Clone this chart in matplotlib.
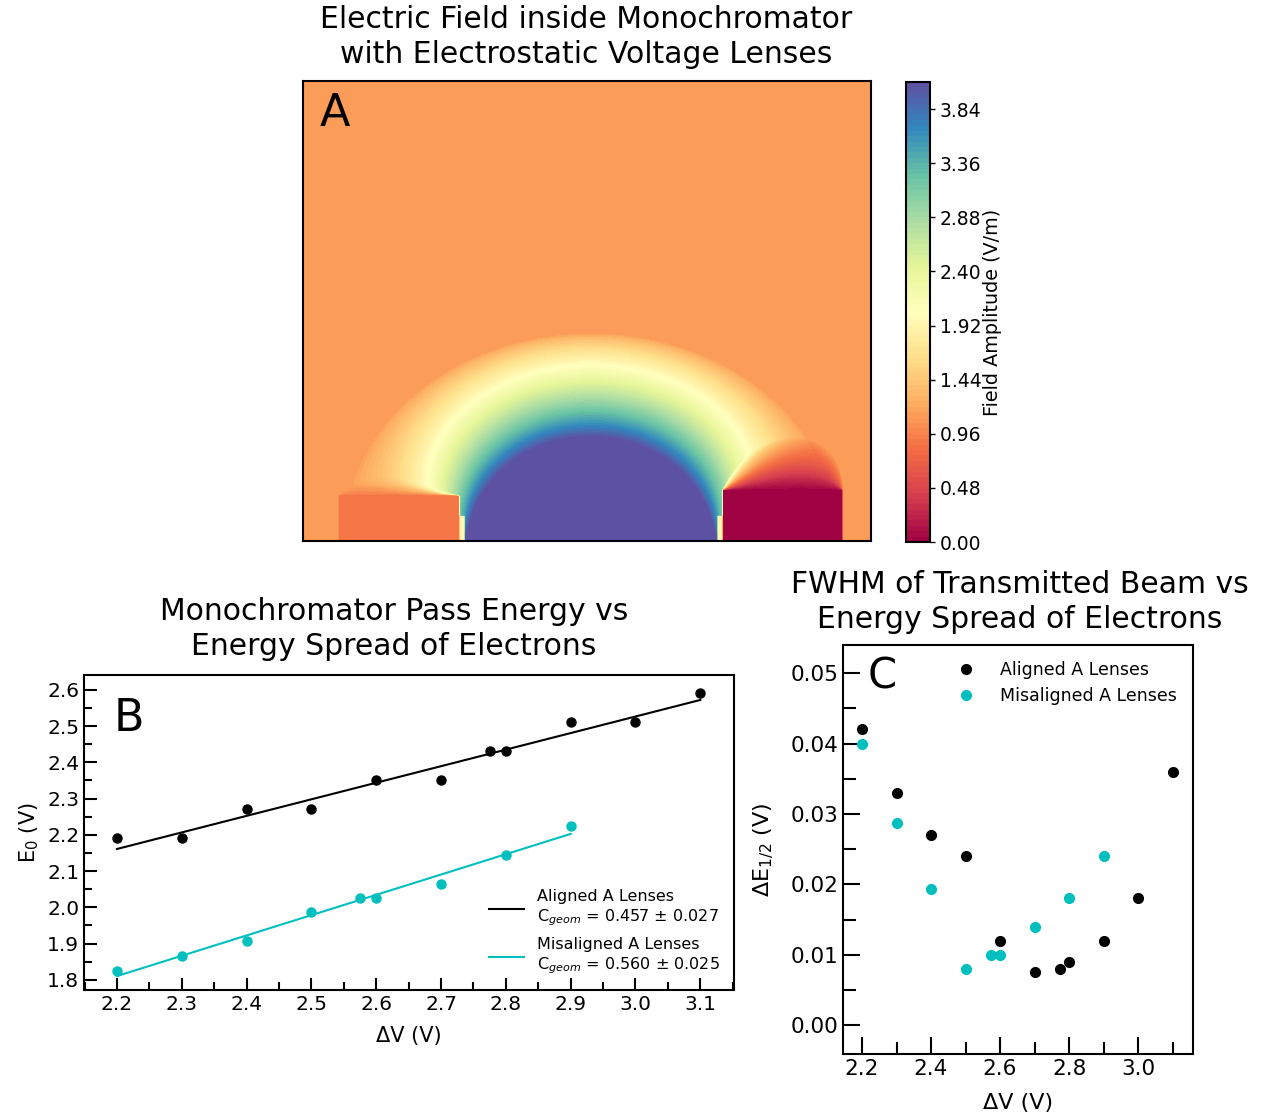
import numpy as np
import matplotlib.pyplot as plt
from matplotlib.ticker import MultipleLocator, FormatStrFormatter

plt.rcParams['font.family'] = ['DejaVu Sans']
plt.rcParams['mathtext.default'] = 'regular'

# ---------------- panel A: electrode layout (plot height = 1) ----------------
box_w = 568 / 460
v_background = 1.13
v_top = 4.08
elec_x0 = [0.076, 0.352, 0.911]
elec_x1 = [0.341, 0.900, 1.174]
elec_top = [0.100, 0.0, 0.111]
elec_volt = [0.90, 4.08, 0.0]
dome_strength = 8.5
dome_axes = (0.54, 0.45)   # extent of the field bubble over the centre lens
gap_value = 1.95
cbar_ticks = [0.00, 0.48, 0.96, 1.44, 1.92, 2.40, 2.88, 3.36, 3.84]

# ---------------- panel B: pass energy ----------------
dv_aligned = [2.2, 2.3, 2.4, 2.5, 2.6, 2.7, 2.775, 2.8, 2.9, 3.0, 3.1]
e0_aligned = [2.19, 2.19, 2.27, 2.27, 2.35, 2.35, 2.43, 2.43, 2.51, 2.51, 2.59]
dv_misaligned = [2.2, 2.3, 2.4, 2.5, 2.575, 2.6, 2.7, 2.8, 2.9]
e0_misaligned = [1.825, 1.866, 1.908, 1.988, 2.026, 2.025, 2.065, 2.145, 2.225]
label_aligned = 'Aligned A Lenses\n$C_{\\mathit{geom}}$ = 0.457 ± 0.027'
label_misaligned = 'Misaligned A Lenses\n$C_{\\mathit{geom}}$ = 0.560 ± 0.025'

# ---------------- panel C: FWHM ----------------
fwhm_aligned = [0.042, 0.033, 0.027, 0.024, 0.012, 0.0076, 0.008, 0.009, 0.012, 0.018, 0.036]
fwhm_misaligned = [0.040, 0.0287, 0.0193, 0.008, 0.010, 0.010, 0.014, 0.018, 0.024]

W, H = 1262, 1118
fig = plt.figure(figsize=(W / 100, H / 100), dpi=100)


def px_axes(left, top, right, bottom):
    return fig.add_axes([left / W, 1 - bottom / H, (right - left) / W, (bottom - top) / H])


# ---- field amplitude map ----
xs = np.linspace(0, box_w, 560)
ys = np.linspace(0, 1, 460)
X, Y = np.meshgrid(xs, ys)


def subtended(x0, x1, base):
    # fraction of pi that the segment [x0, x1] at height base subtends
    yy = np.maximum(Y - base, 1e-6)
    return (np.arctan2(x1 - X, yy) - np.arctan2(x0 - X, yy)) / np.pi


xc = 0.5 * (elec_x0[1] + elec_x1[1])
rho = np.hypot((X - xc) / dome_axes[0], Y / dome_axes[1])
f_c = subtended(elec_x0[1], elec_x1[1], elec_top[1])
field = v_background + dome_strength * f_c * np.clip(1 - rho, 0, None) ** 0.7

# right lens (0 V): red fan that rises towards its outer end
t_r = np.clip((X - elec_x0[2]) / (elec_x1[2] - elec_x0[2]), 0, 1)
f_r = subtended(elec_x0[2], elec_x1[2], elec_top[2])
r0 = 0.62 - 0.14 * t_r
blend_r = np.clip((f_r - r0) / (1 - r0), 0, 1) ** 0.7
field = field + (elec_volt[2] - field) * blend_r

# left lens: thin rim, thicker at its outer end
t_l = np.clip((X - elec_x0[0]) / (elec_x1[0] - elec_x0[0]), 0, 1)
f_l = subtended(elec_x0[0], elec_x1[0], elec_top[0])
l0 = 0.72 + 0.2 * t_l
blend_l = np.clip((f_l - l0) / (1 - l0), 0, 1) ** 1.5
field = field + (elec_volt[0] - field) * blend_l

for x0, x1, top, v in zip(elec_x0, elec_x1, elec_top, elec_volt):
    field[(X >= x0) & (X <= x1) & (Y <= top)] = v
for gx0, gx1 in [(elec_x1[0], elec_x0[1]), (elec_x1[1], elec_x0[2])]:
    field[(X > gx0) & (X < gx1) & (Y < 0.055)] = gap_value

levels = np.linspace(0, v_top, 86)
ax_a = px_axes(303, 81, 871, 541)
cs = ax_a.contourf(X, Y, np.clip(field, 0, v_top - 1e-3), levels=levels, cmap='Spectral')
ax_a.set_xlim(0, box_w)
ax_a.set_ylim(0, 1)
ax_a.set_xticks([])
ax_a.set_yticks([])
for s in ax_a.spines.values():
    s.set_linewidth(1.5)
ax_a.text(0.03, 0.975, 'A', transform=ax_a.transAxes, fontsize=32, va='top', ha='left')

cax = px_axes(906, 82, 930, 542)
cb = fig.colorbar(cs, cax=cax, ticks=cbar_ticks)
cb.ax.yaxis.set_major_formatter(FormatStrFormatter('%.2f'))
cb.ax.tick_params(labelsize=13.5, width=1)
cb.outline.set_linewidth(1.5)
cb.set_label('Field Amplitude (V/m)', fontsize=13.8, labelpad=1)

fig.text(586 / W, 1 - 37 / H, 'Electric Field inside Monochromator\nwith Electrostatic Voltage Lenses',
         ha='center', va='center', fontsize=21.5, linespacing=1.25)

# ---- panel B ----
ax_b = px_axes(84, 675, 734, 990)
for dv, e0, col, lab in [(dv_aligned, e0_aligned, 'k', label_aligned),
                         (dv_misaligned, e0_misaligned, 'c', label_misaligned)]:
    ax_b.plot(dv, e0, 'o', color=col, ms=6.5, ls='none')
    coef = np.polyfit(dv, e0, 1)
    xx = np.array([min(dv), max(dv)])
    ax_b.plot(xx, np.polyval(coef, xx), color=col, lw=1.5, label=lab)
ax_b.set_xlim(2.149, 3.152)
ax_b.set_ylim(1.772, 2.641)
ax_b.xaxis.set_major_locator(MultipleLocator(0.1))
ax_b.xaxis.set_minor_locator(MultipleLocator(0.05))
ax_b.yaxis.set_major_locator(MultipleLocator(0.1))
ax_b.yaxis.set_minor_locator(MultipleLocator(0.05))
ax_b.xaxis.set_major_formatter(FormatStrFormatter('%.1f'))
ax_b.yaxis.set_major_formatter(FormatStrFormatter('%.1f'))
ax_b.tick_params(which='both', direction='in', width=1.5, labelsize=14.5)
ax_b.tick_params(which='major', length=9)
ax_b.tick_params(which='minor', length=6)
for s in ax_b.spines.values():
    s.set_linewidth(1.5)
ax_b.set_xlabel('ΔV (V)', fontsize=15, labelpad=9)
ax_b.set_ylabel('E$_0$ (V)', fontsize=15)
ax_b.text(0.045, 0.93, 'B', transform=ax_b.transAxes, fontsize=32, va='top', ha='left')
ax_b.legend(loc='lower right', frameon=False, fontsize=11.5, handlelength=2.2,
            borderaxespad=0.5, labelspacing=0.6)
fig.text(394 / W, 1 - 629 / H, 'Monochromator Pass Energy vs\nEnergy Spread of Electrons',
         ha='center', va='center', fontsize=21.5, linespacing=1.25)

# ---- panel C ----
ax_c = px_axes(843, 645, 1193, 1054)
ax_c.plot(dv_aligned, fwhm_aligned, 'o', color='k', ms=7, ls='none', label='Aligned A Lenses')
ax_c.plot(dv_misaligned, fwhm_misaligned, 'o', color='c', ms=7, ls='none', label='Misaligned A Lenses')
ax_c.set_xlim(2.145, 3.159)
ax_c.set_ylim(-0.0041, 0.054)
ax_c.xaxis.set_major_locator(MultipleLocator(0.2))
ax_c.xaxis.set_minor_locator(MultipleLocator(0.1))
ax_c.yaxis.set_major_locator(MultipleLocator(0.01))
ax_c.yaxis.set_minor_locator(MultipleLocator(0.005))
ax_c.xaxis.set_major_formatter(FormatStrFormatter('%.1f'))
ax_c.yaxis.set_major_formatter(FormatStrFormatter('%.2f'))
ax_c.tick_params(which='both', direction='in', width=1.5, labelsize=15.5)
ax_c.tick_params(which='major', length=12)
ax_c.tick_params(which='minor', length=9)
for s in ax_c.spines.values():
    s.set_linewidth(1.5)
ax_c.set_xlabel('ΔV (V)', fontsize=16, labelpad=10)
ax_c.set_ylabel('ΔE$_{1/2}$ (V)', fontsize=16, labelpad=10)
ax_c.text(0.07, 0.975, 'C', transform=ax_c.transAxes, fontsize=30, va='top', ha='left')
ax_c.legend(loc='upper right', frameon=False, fontsize=12.5, handletextpad=1.0,
            borderaxespad=0.5, labelspacing=0.5)
fig.text(1020 / W, 1 - 602 / H, 'FWHM of Transmitted Beam vs\nEnergy Spread of Electrons',
         ha='center', va='center', fontsize=21.5, linespacing=1.25)

fig.savefig('out.png', dpi=100)
